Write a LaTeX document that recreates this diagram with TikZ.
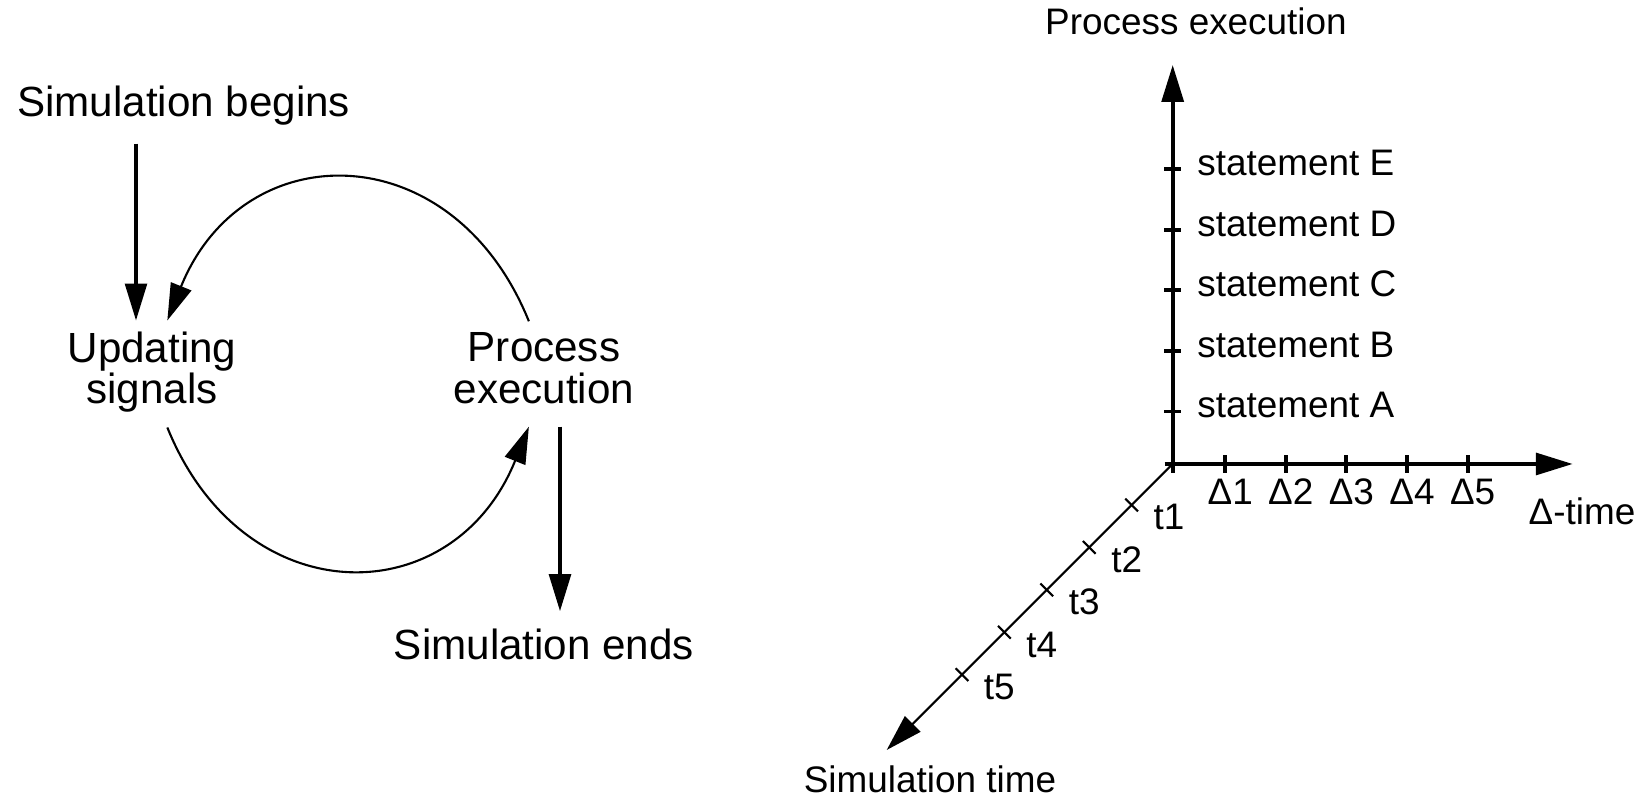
\documentclass[tikz,border=0pt]{standalone}
\usepackage{fontspec}
\setmainfont{Liberation Sans}
\usetikzlibrary{arrows.meta}
\tikzset{
	>={Triangle[length=10.5pt,width=6.2pt]},
	lbl/.style={font=\fontsize{12}{11.8}\selectfont, inner sep=3pt},
	phase/.style={lbl, align=center},
	term/.style={lbl, inner sep=5pt},
	axlbl/.style={font=\fontsize{10.5}{12}\selectfont, inner sep=0pt},
	flow/.style={line width=0.9pt},
	cyc/.style={line width=0.6pt},
	axisline/.style={line width=1.1pt},
	diag/.style={line width=0.6pt}
}

\begin{document}
\begin{tikzpicture}
	\useasboundingbox (0,0) rectangle (16.41,-8.01);
	% simulation cycle
	\node[term,anchor=base] (begins) at (1.837,-1.167) {Simulation begins};
	\node[phase] (upd) at (1.52,-3.74) {Updating\\signals\strut};
	\node[phase] (proc) at (5.44,-3.74) {Process\\execution\strut};
	\node[term,anchor=base] (ends) at (5.44,-6.60) {Simulation ends};
	\coordinate (updin) at ([xshift=-0.16cm]upd.north);
	\coordinate (procout) at ([xshift=0.16cm]proc.south);
	\draw[flow,->] (begins.south -| updin) -- (updin);
	\draw[cyc,->] (proc.106) to[out=112,in=68,looseness=1.43] (upd.74);
	\draw[cyc,->] (upd.-74) to[out=-68,in=-112,looseness=1.43] (proc.-106);
	\draw[flow,->] (procout) -- (procout |- ends.north);
	% time axes
	\coordinate (O) at (11.727,-4.64);
	\coordinate (ptip) at (11.727,-0.65);
	\coordinate (dtip) at (15.727,-4.64);
	\coordinate (stip) at (8.867,-7.50);
	\draw[axisline,->] ([yshift=-0.09cm]O) -- (ptip);
	\draw[axisline,->] ([xshift=-0.08cm]O) -- (dtip);
	\draw[diag,->] (O) -- (stip);
	\node[axlbl,anchor=base] (plabel) at (11.96,-0.345) {Process execution};
	\node[axlbl,anchor=base west] (dlabel) at (15.28,-5.25) {Δ-time};
	\node[axlbl,anchor=base] (slabel) at (9.30,-7.93) {Simulation time};
	\foreach \s [count=\i] in {A,B,C,D,E} {
		\coordinate (p\i) at ([shift={(0,0.606*\i-0.081)}]O);
		\draw[axisline] ([xshift=-0.085cm]p\i) -- ([xshift=0.085cm]p\i);
		\node[axlbl,anchor=base west] (stm\s) at ([shift={(0.24,-0.065)}]p\i) {statement \s};
	}
	\foreach \i in {1,...,5} {
		\coordinate (d\i) at ([shift={(0.606*\i-0.081,0)}]O);
		\draw[axisline] ([yshift=-0.09cm]d\i) -- ([yshift=0.09cm]d\i);
		\node[axlbl,anchor=base] (dl\i) at ([shift={(0.05,-0.41)}]d\i) {Δ\i};
		\coordinate (t\i) at ([shift={(225:{0.6*\i-0.02})}]O);
		\draw[diag] ([shift={(135:0.09)}]t\i) -- ([shift={(-45:0.09)}]t\i);
		\node[axlbl,anchor=base west] (tl\i) at ([shift={(0.213,-0.25)}]t\i) {t\i};
	}
\end{tikzpicture}
\end{document}
